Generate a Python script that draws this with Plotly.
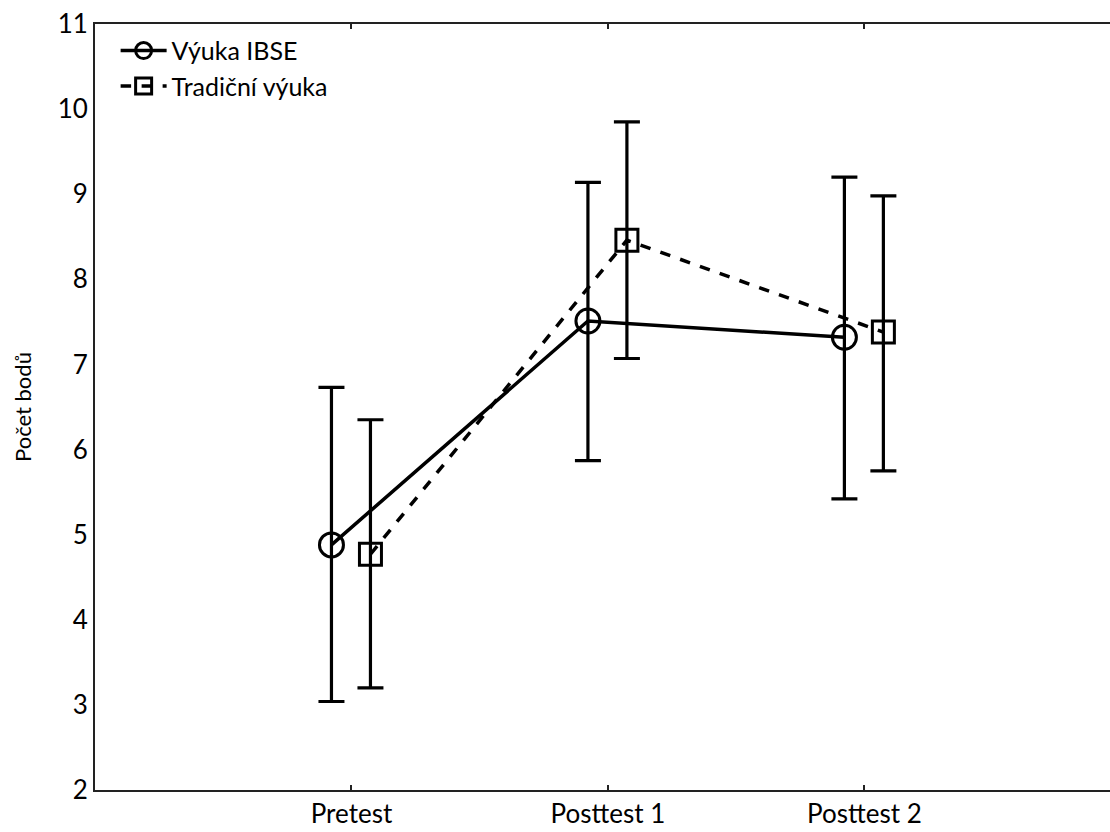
import plotly.graph_objects as go

categories = ["Pretest", "Posttest 1", "Posttest 2"]
ibse_mean = [4.88, 7.51, 7.32]
ibse_upper = [6.73, 9.14, 9.20]
ibse_lower = [3.04, 5.87, 5.42]
trad_mean = [4.77, 8.46, 7.38]
trad_upper = [6.35, 9.85, 8.98]
trad_lower = [3.20, 7.07, 5.75]

off_ibse = -0.078
off_trad = 0.074
cat_pos = list(range(len(categories)))

FONT = "Lato"

fig = go.Figure()

def add_series(name, mean, upper, lower, off, symbol, dash, size):
    fig.add_trace(go.Scatter(
        x=[p + off for p in cat_pos], y=mean, name=name,
        mode="lines+markers",
        line=dict(color="black", width=3.5, dash=dash),
        marker=dict(symbol=symbol, size=size, color="black",
                    line=dict(color="black", width=3)),
        error_y=dict(type="data", symmetric=False,
                     array=[u - m for u, m in zip(upper, mean)],
                     arrayminus=[m - l for m, l in zip(mean, lower)],
                     color="black", thickness=3.2, width=13),
    ))

add_series("Výuka IBSE", ibse_mean, ibse_upper, ibse_lower, off_ibse,
           "circle-open", "solid", 24)
add_series("Tradiční výuka", trad_mean, trad_upper, trad_lower, off_trad,
           "square-open", "dash", 22)

fig.update_layout(
    width=1126, height=832,
    margin=dict(l=95, r=0, t=24, b=42),
    paper_bgcolor="white", plot_bgcolor="white",
    font=dict(family=FONT, size=26, color="black"),
    showlegend=True,
    legend=dict(x=0.02, y=0.995, xanchor="left", yanchor="top",
                bgcolor="rgba(0,0,0,0)", borderwidth=0,
                font=dict(family=FONT, size=25, color="black"),
                itemwidth=46, tracegroupgap=0),
)
fig.update_xaxes(
    range=[-1, 3.02], tickvals=cat_pos, ticktext=categories,
    showgrid=False, zeroline=False,
    showline=True, linecolor="#222", linewidth=2, mirror="allticks",
    ticks="inside", ticklen=5, tickwidth=2, tickcolor="#222",
    tickfont=dict(family=FONT, size=26, color="black"),
)
fig.update_yaxes(
    range=[2, 11], dtick=1, tick0=2,
    showgrid=False, zeroline=False,
    showline=True, linecolor="#222", linewidth=2,
    ticks="", tickfont=dict(family=FONT, size=26, color="black"),
    title=dict(text="Počet bodů", font=dict(family=FONT, size=22, color="black"),
               standoff=20),
)

fig.write_html(
    "out.html", config={"displayModeBar": False},
    post_script=("document.body.style.margin='0';"
                 "document.body.style.overflow='hidden';"
                 "document.documentElement.style.overflow='hidden';"))
